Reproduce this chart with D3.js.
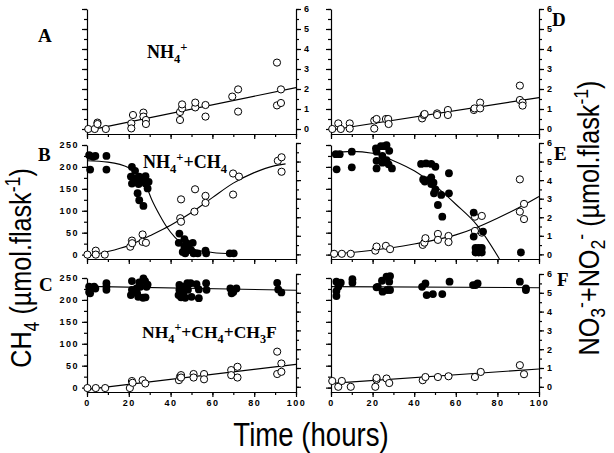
<!DOCTYPE html>
<html>
<head>
<meta charset="utf-8">
<script src="https://cdn.jsdelivr.net/npm/d3@7"></script>
<style>
    body { margin: 0; background: #fff; }
    svg { display: block; }
    .tick text { font-family: "Liberation Sans", Arial, sans-serif; font-weight: bold; font-size: 9px; letter-spacing: 1.5px; fill: #000; }
    .domain, .tick line { stroke: #000; stroke-width: 1.2px; }
    .panel-letter, .treatment { font-family: "Liberation Serif", "Times New Roman", serif; font-weight: bold; }
    .title { font-family: "Liberation Sans", Arial, sans-serif; }
</style>
</head>
<body>
<svg id="chart" width="614" height="453"></svg>
<script>
(function() {
    // ---- tick values
    var ticksTime = [0, 20, 40, 60, 80, 100],
        ticksTimeMinor = [0, 10, 20, 30, 40, 50, 60, 70, 80, 90, 100];
    var ticksCH4 = [0, 50, 100, 150, 200, 250],
        ticksCH4Minor = [0, 25, 50, 75, 100, 125, 150, 175, 200, 225, 250];
    var ticksNO = [0, 1, 2, 3, 4, 5, 6],
        ticksNOMinor = [0, 0.5, 1, 1.5, 2, 2.5, 3, 3.5, 4, 4.5, 5, 5.5, 6];

    // ---- panel A : NH4+ , nitrite+nitrate (open), [hours, value]
    var aOpen = [[0.6,0],[3.7,0],[5,0.32],[5,0.25],[9,0],[21.2,0.28],[21.2,0.03],[22,0.7],[27,0.82],[27,0.62],
        [28.2,0.45],[28.2,0.25],[44.5,0.45],[44.5,0.85],[45.5,1.03],[45.5,1.23],[51.8,1.08],[51.8,1.32],
        [56.7,1.2],[56.7,0.62],[69.5,1.62],[72.3,1.98],[72.3,0.87],[90.9,3.32],[90.9,1.18],[92.8,1.98],[92.8,1.3]];
    var aFit = [[0,-0.08],[100,2.07]];

    // ---- panel D
    var dOpen = [[0.6,0],[3.5,0.28],[4.7,0],[9,0.28],[9,0.02],[20.8,0.02],[20.8,0.42],[21.9,0.5],[26.4,0.5],
        [27.5,0.5],[27.7,0.25],[43.8,0.53],[44.6,0.7],[45,0.75],[51,0.78],[51,0.7],[56.2,0.95],[56.2,0.7],
        [68.7,0.95],[69,1.03],[71.7,1.32],[71.7,1.03],[90.8,2.17],[90.8,1.45],[92.1,1.32],[92.1,1.17]];
    var dFit = [[0,-0.05],[100,1.57]];

    // ---- panel B : NH4+ + CH4 (umol per flask)
    var bFilled = [[1,227],[1.5,225],[3,223],[4,225],[1.5,194],[9.3,225],[9.3,194],[21.5,200],[21,178],[23,191],
        [21.5,162],[23.5,174],[24.7,161],[25,178],[26,170],[28,162],[29,151],[28,179],[29.5,166],[24.2,140],
        [25,124],[27,111],[44.2,48],[43.9,27],[46.6,35],[47.7,26],[48.6,18],[46.6,18],[45.8,6],[47,3],
        [49.8,10],[50.6,27],[51,3],[53,3],[56.7,9],[57,3],[68.3,3],[70.2,3]];
    var bOpen = [[0.2,0],[4.2,9],[4.2,0],[8.5,0],[20.7,18],[21.5,32],[21.6,26],[26.6,46],[26.6,29],[28.2,27],
        [44.6,83],[45,75],[45,126],[51.7,149],[51.4,98],[56.7,134],[56.7,118],[69.9,185],[69.9,137],
        [72.7,178],[91.3,214],[93.1,222],[93.1,189]];
    var bFitFilled = [[0,214],[10,211],[20,198],[25,180],[28,160],[31,125],[35,88],[38,64],[42,40],[46,23],
        [52,11],[60,5],[70,2]];
    var bFitOpen = [[0,-3],[10,7],[20,21],[30,43],[40,67],[50,96],[60,130],[70,163],[80,187],[90,203],[95,207]];

    // ---- panel E
    var eFilled = [[2.3,5.4],[4.2,5.4],[2.7,4.58],[10,5.53],[10,4.69],[21.6,5.71],[21.9,5.53],[21.9,5.04],
        [21.9,4.63],[24,5.83],[25.6,5.83],[26.7,5.89],[28,5.58],[24.7,4.94],[26.7,5.08],[27.7,4.85],[29.3,4.63],
        [24.7,5.3],[43.3,4.87],[45.7,4.9],[48.2,4.87],[50.2,4.72],[44.3,4.04],[45.1,3.92],[46.7,4.0],
        [48.2,3.79],[49.3,3.86],[48.2,4.15],[50.2,3.5],[49.5,3.29],[53,3.2],[56.7,4.37],[56.7,3.29],
        [51.4,2.66],[53.5,2.03],[68.6,2.25],[68.6,0.96],[73.1,1.23],[69.5,0.35],[71,0.35],[72.5,0.35],
        [69.5,0.1],[71,0.1],[72.5,0.1],[91.3,0.1]];
    var eOpen = [[1.5,0.03],[5.2,0.03],[9.5,0.03],[21.3,0.2],[21.9,0.42],[26.4,0.46],[28.4,0.28],[44.1,0.51],
        [44.9,0.63],[45.4,0.87],[51.4,1.1],[51.4,0.78],[56.5,0.99],[56.5,0.66],[69.2,2.03],[69.2,1.26],
        [72.5,2.07],[72.5,1.17],[90.8,4.04],[90.8,2.3],[92.8,2.72],[92.8,1.9]];
    var eFitFilled = [[0,5.45],[10,5.55],[20,5.45],[30,5.05],[40,4.5],[50,3.7],[60,2.7],[70,1.6],[81,-0.25]];
    var eFitOpen = [[0,0.02],[10,0.1],[20,0.22],[30,0.37],[40,0.56],[50,0.78],[60,1.05],[70,1.45],[80,1.95],
        [90,2.5],[100,3.12]];

    // ---- panel C : NH4+ + CH4 + CH3F
    var cFilled = [[1,230],[1,218],[1.5,215],[3.4,230],[4,226],[9.3,238],[9.3,230],[9.3,223],[21.5,243],
        [21.5,223],[21,211],[23.7,226],[24,215],[25,240],[25.5,230],[27,249],[27.8,243],[28,206],[26.8,205],
        [28.5,230],[29,235],[24.5,207],[44.2,234],[44.2,223],[43.8,211],[45,206],[46,215],[46.3,230],[48,238],
        [48.3,223],[49.6,238],[50,207],[47,205],[53.5,204],[52.4,236],[53.5,224],[57,238],[57.2,223],
        [68.6,226],[70,218],[69.2,215],[71.5,226],[91,239],[91.5,224],[93,217]];
    var cOpen = [[0.2,-1],[4.2,-1],[8.7,-1],[20.5,-1],[21.5,15],[21.8,11],[26.6,17],[27.9,9.5],[44,17],
        [44.5,25],[45,28.5],[45,23],[51,31],[51,23],[56,31],[56,19],[69,40],[69,28.5],[72,47.5],[72,23],
        [91,82],[91,31],[93,55],[93,36]];
    var cFitFilled = [[0,231],[100,222]];
    var cFitOpen = [[0,-4],[100,53]];

    // ---- panel F
    var fFilled = [[2.6,5.59],[3.5,5.32],[2.6,5.09],[2.6,4.83],[4.7,5.54],[10.3,5.72],[10.3,5.54],[21.9,5.29],
        [22.5,5.32],[24.5,5.64],[24.8,5.06],[26.7,5.86],[28.4,5.89],[27,5.15],[28.4,5.15],[28,5.59],
        [43.8,5.32],[45.4,5.5],[46,4.88],[49,4.93],[53.5,4.93],[57,5.59],[68.3,5.41],[69.5,5.41],[70.5,5.5],
        [90.8,5.59],[93.7,5.24],[93.7,5.15]];
    var fOpen = [[0.6,0.31],[3.5,0],[5.2,0.31],[9.5,0],[21.3,0],[21.9,0.38],[21.9,0.47],[26.7,0.44],[28,0.2],
        [44.1,0.35],[45.4,0.52],[51.4,0.52],[56.5,0.56],[69.2,0.52],[72,0.79],[90.8,1.15],[92.8,0.67]];
    var fFitFilled = [[0,5.33],[100,5.27]];
    var fFitOpen = [[0,0.18],[100,0.95]];

    var svg = d3.select("#chart");

    var xLeft = d3.scaleLinear().domain([0, 100]).range([87, 296]),
        xRight = d3.scaleLinear().domain([0, 100]).range([331, 539]);

    // one row = one horizontal strip of two panels
    var rows = [
        { bottom: 134, ch4: d3.scaleLinear().domain([-0.25, 6]).range([134, 9]),
          no: d3.scaleLinear().domain([-0.25, 6]).range([134, 9]) },
        { bottom: 259, ch4: d3.scaleLinear().domain([-10, 250]).range([259, 145]),
          no: d3.scaleLinear().domain([-0.25, 6]).range([259, 143]) },
        { bottom: 392, ch4: d3.scaleLinear().domain([-10, 250]).range([392, 278]),
          no: d3.scaleLinear().domain([-0.25, 6]).range([391.5, 274]) }
    ];

    var panels = [
        { row: 0, x: xLeft, leftLabels: false, rightLabels: true,
          open: aOpen, openY: "no", fits: [[aFit, "no"]] },
        { row: 0, x: xRight, leftLabels: false, rightLabels: true,
          open: dOpen, openY: "no", fits: [[dFit, "no"]] },
        { row: 1, x: xLeft, leftLabels: true, rightLabels: false,
          filled: bFilled, filledY: "ch4", open: bOpen, openY: "ch4",
          fits: [[bFitFilled, "ch4"], [bFitOpen, "ch4"]] },
        { row: 1, x: xRight, leftLabels: false, rightLabels: true,
          filled: eFilled, filledY: "no", open: eOpen, openY: "no",
          fits: [[eFitFilled, "no"], [eFitOpen, "no"]] },
        { row: 2, x: xLeft, leftLabels: true, rightLabels: false, timeLabels: true,
          filled: cFilled, filledY: "ch4", open: cOpen, openY: "ch4",
          fits: [[cFitFilled, "ch4"], [cFitOpen, "ch4"]] },
        { row: 2, x: xRight, leftLabels: false, rightLabels: true, timeLabels: true,
          filled: fFilled, filledY: "no", open: fOpen, openY: "no",
          fits: [[fFitFilled, "no"], [fFitOpen, "no"]] }
    ];

    function drawAxis(g, axisFn, scale, major, minor, labels) {
        g.append("g").call(axisFn(scale).tickValues(minor).tickSize(3).tickSizeOuter(0).tickFormat(""));
        var ax = g.append("g").call(axisFn(scale).tickValues(major).tickSize(5).tickPadding(3)
            .tickSizeOuter(0).tickFormat(labels ? d3.format("d") : ""));
        ax.select(".domain").remove();
        return ax;
    }

    panels.forEach(function(p) {
        var row = rows[p.row];
        var g = svg.append("g");
        var xr = p.x.range();

        // left axis: CH4 scale except the top row (which is NO only)
        var leftMajor = p.row === 0 ? ticksNO : ticksCH4,
            leftMinor = p.row === 0 ? ticksNOMinor : ticksCH4Minor;
        drawAxis(g.append("g").attr("transform", "translate(" + xr[0] + ",0)"),
            d3.axisLeft, row.ch4, leftMajor, leftMinor, p.leftLabels);

        drawAxis(g.append("g").attr("transform", "translate(" + xr[1] + ",0)"),
            d3.axisRight, row.no, ticksNO, ticksNOMinor, p.rightLabels);

        drawAxis(g.append("g").attr("transform", "translate(0," + row.bottom + ")"),
            d3.axisBottom, p.x, ticksTime, ticksTimeMinor, p.timeLabels);

        // fitted curves
        p.fits.forEach(function(f) {
            var ys = row[f[1]];
            var line = d3.line()
                .x(function(d) { return p.x(d[0]); })
                .y(function(d) { return ys(d[1]); })
                .curve(f[0].length > 2 ? d3.curveMonotoneX : d3.curveLinear);
            g.append("path")
                .datum(f[0])
                .attr("d", line)
                .attr("fill", "none")
                .attr("stroke", "#000")
                .attr("stroke-width", 1.1);
        });

        if (p.open) {
            g.selectAll(".open")
                .data(p.open)
                .enter().append("circle")
                .attr("class", "open")
                .attr("cx", function(d) { return p.x(d[0]); })
                .attr("cy", function(d) { return row[p.openY](d[1]); })
                .attr("r", 3.6)
                .attr("fill", "#fff")
                .attr("stroke", "#000")
                .attr("stroke-width", 1);
        }
        if (p.filled) {
            g.selectAll(".filled")
                .data(p.filled)
                .enter().append("circle")
                .attr("class", "filled")
                .attr("cx", function(d) { return p.x(d[0]); })
                .attr("cy", function(d) { return row[p.filledY](d[1]); })
                .attr("r", 3.9)
                .attr("fill", "#000");
        }
    });

    // text with sub/superscripts: parts = [[text, "n"|"sub"|"sup"], ...]
    function rich(sel, parts, size, subShift) {
        var shift = 0;
        subShift = subShift || 0.28;
        parts.forEach(function(part) {
            var target = part[1] === "sub" ? size * subShift : (part[1] === "sup" ? -size * 0.38 : 0);
            var t = sel.append("tspan").text(part[0]).attr("dy", target - shift);
            if (part[1] !== "n") t.attr("font-size", size * 0.7);
            shift = target;
        });
    }

    var letters = [["A", 38, 42], ["D", 552, 26], ["B", 38, 161], ["E", 554, 160], ["C", 39, 291], ["F", 557, 286]];
    letters.forEach(function(l) {
        svg.append("text").attr("class", "panel-letter")
            .attr("x", l[1]).attr("y", l[2])
            .attr("font-size", 19)
            .text(l[0]);
    });

    rich(svg.append("text").attr("class", "treatment").attr("x", 147).attr("y", 58).attr("font-size", 18),
        [["NH", "n"], ["4", "sub"], ["+", "sup"]], 18);
    rich(svg.append("text").attr("class", "treatment").attr("x", 143).attr("y", 168).attr("font-size", 18),
        [["NH", "n"], ["4", "sub"], ["+", "sup"], ["+CH", "n"], ["4", "sub"]], 18);
    rich(svg.append("text").attr("class", "treatment").attr("x", 142).attr("y", 338).attr("font-size", 17.5),
        [["NH", "n"], ["4", "sub"], ["+", "sup"], ["+CH", "n"], ["4", "sub"], ["+CH", "n"], ["3", "sub"], ["F", "n"]], 17.5);

    // axis titles (slightly condensed like the original typeface)
    rich(svg.append("text").attr("class", "title")
        .attr("transform", "translate(31,268) rotate(-90) scale(0.9,1.08)")
        .attr("text-anchor", "middle").attr("font-size", 28),
        [["CH", "n"], ["4", "sub"], [" (\u00b5mol.flask", "n"], ["-1", "sup"], [")", "n"]], 28);

    rich(svg.append("text").attr("class", "title")
        .attr("transform", "translate(599,218) rotate(-90) scale(0.9,1.04)")
        .attr("text-anchor", "middle").attr("font-size", 28),
        [["NO", "n"], ["3", "sub"], ["-", "sup"], ["+NO", "n"], ["2", "sub"], ["-", "sup"],
         [" (\u00b5mol.flask", "n"], ["-1", "sup"], [")", "n"]], 28, 0.2);

    svg.append("text").attr("class", "title")
        .attr("transform", "translate(311,446) scale(0.92,1.08)")
        .attr("text-anchor", "middle").attr("font-size", 30)
        .text("Time (hours)");
})();
</script>
</body>
</html>
